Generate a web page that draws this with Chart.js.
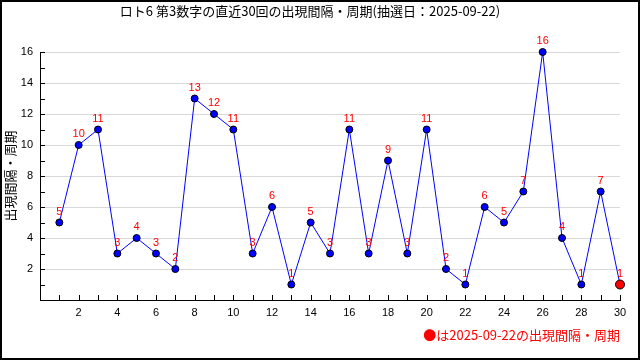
<!DOCTYPE html>
<html>
<head>
<meta charset="utf-8">
<script src="https://cdn.jsdelivr.net/npm/chart.js@4"></script>
<style>
  html, body { margin: 0; padding: 0; background: #fff; }
  #wrap { width: 640px; height: 360px; }
</style>
</head>
<body>
<div id="wrap"><canvas id="gap-chart" width="640" height="360"></canvas></div>
<script>
// Data
const draws = [1, 2, 3, 4, 5, 6, 7, 8, 9, 10, 11, 12, 13, 14, 15, 16, 17, 18, 19, 20, 21, 22, 23, 24, 25, 26, 27, 28, 29, 30];
const gaps = [5, 10, 11, 3, 4, 3, 2, 13, 12, 11, 3, 6, 1, 5, 3, 11, 3, 9, 3, 11, 2, 1, 6, 5, 7, 16, 4, 1, 7, 1];
const xTickLabels = [2, 4, 6, 8, 10, 12, 14, 16, 18, 20, 22, 24, 26, 28, 30];
const yTickLabels = [2, 4, 6, 8, 10, 12, 14, 16];

const titleText = "ロト6 第3数字の直近30回の出現間隔・周期(抽選日：2025-09-22)";
const yTitleText = "出現間隔・周期";
const noteText = "●は2025-09-22の出現間隔・周期";

const jpFont = "'Noto Sans CJK JP', 'DejaVu Sans', sans-serif";
const numFont = "'Liberation Sans', Arial, sans-serif";

// Last point highlighted in red
const lastIndex = gaps.length - 1;
const pointFill = gaps.map((v, i) => (i === lastIndex ? "#ff0000" : "#0000ff"));
const pointSize = gaps.map((v, i) => (i === lastIndex ? 4.5 : 3.5));

// Inside tick marks, value labels and outer frame
const extras = {
  id: "extras",
  afterDatasetsDraw(chart) {
    const ctx = chart.ctx;
    const meta = chart.getDatasetMeta(0);
    ctx.save();
    ctx.fillStyle = "#ff0000";
    ctx.font = "11px " + numFont;
    ctx.textAlign = "center";
    ctx.textBaseline = "middle";
    meta.data.forEach((pt, i) => {
      ctx.fillText(String(gaps[i]), pt.x, pt.y - 11);
    });
    ctx.restore();
  },
  afterDraw(chart) {
    const ctx = chart.ctx;
    const x = chart.scales.x;
    const y = chart.scales.y;
    const area = chart.chartArea;
    ctx.save();
    ctx.strokeStyle = "#000";
    ctx.lineWidth = 1;
    ctx.beginPath();
    x.ticks.forEach((t) => {
      if (t.value <= 0) return;
      const px = Math.round(x.getPixelForValue(t.value)) + 0.5;
      ctx.moveTo(px, area.bottom);
      ctx.lineTo(px, area.bottom - 5);
    });
    y.ticks.forEach((t) => {
      if (t.value <= 0) return;
      const py = Math.round(y.getPixelForValue(t.value)) + 0.5;
      ctx.moveTo(area.left, py);
      ctx.lineTo(area.left + 5, py);
    });
    ctx.stroke();
    ctx.lineWidth = 2;
    ctx.strokeRect(1, 1, chart.width - 2, chart.height - 2);
    ctx.restore();
  },
};

const ctx = document.getElementById("gap-chart").getContext("2d");
const gapChart = new Chart(ctx, {
  type: "line",
  data: {
    labels: draws,
    datasets: [
      {
        data: draws.map((d, i) => ({ x: d, y: gaps[i] })),
        borderColor: "#0000ff",
        borderWidth: 1,
        pointBackgroundColor: pointFill,
        pointBorderColor: "#000",
        pointBorderWidth: 1,
        pointRadius: pointSize,
        tension: 0,
        clip: false,
      },
    ],
  },
  options: {
    responsive: false,
    animation: false,
    layout: { padding: { left: 0, right: 20, top: 0, bottom: 0 } },
    plugins: {
      legend: { display: false },
      tooltip: { enabled: false },
      title: {
        display: true,
        text: titleText,
        color: "#000",
        font: { family: jpFont, size: 13, weight: "normal", lineHeight: 1.2 },
        padding: { top: 3.2, bottom: 33.2 },
      },
      subtitle: {
        display: true,
        text: noteText,
        position: "bottom",
        align: "end",
        color: "#ff0000",
        font: { family: jpFont, size: 13, weight: "normal", lineHeight: 1.2 },
        padding: { top: 3.2, bottom: 17.2 },
      },
    },
    scales: {
      x: {
        type: "linear",
        min: 0,
        max: 30,
        afterFit: (s) => { s.height = 24; },
        ticks: {
          stepSize: 1,
          autoSkip: false,
          maxRotation: 0,
          padding: 6,
          color: "#000",
          font: { family: numFont, size: 11 },
          callback: (v) => (xTickLabels.includes(v) ? String(v) : ""),
        },
        grid: { color: "rgba(0,0,0,0)", drawTicks: false },
        border: { display: true, color: "#000", width: 1 },
      },
      y: {
        min: 0,
        max: 16,
        afterFit: (s) => { s.width = 40; },
        ticks: {
          stepSize: 1,
          autoSkip: false,
          padding: 7,
          color: "#000",
          font: { family: numFont, size: 11 },
          callback: (v) => (yTickLabels.includes(v) ? String(v) : ""),
        },
        grid: {
          drawTicks: false,
          color: (c) => (c.tick && yTickLabels.includes(c.tick.value) ? "#d9d9d9" : "rgba(0,0,0,0)"),
        },
        border: { display: true, color: "#000", width: 1 },
        title: {
          display: true,
          text: yTitleText,
          color: "#000",
          font: { family: jpFont, size: 13, weight: "normal", lineHeight: 1.2 },
          padding: { top: 2, bottom: 0 },
        },
      },
    },
  },
  plugins: [extras],
});
</script>
</body>
</html>
